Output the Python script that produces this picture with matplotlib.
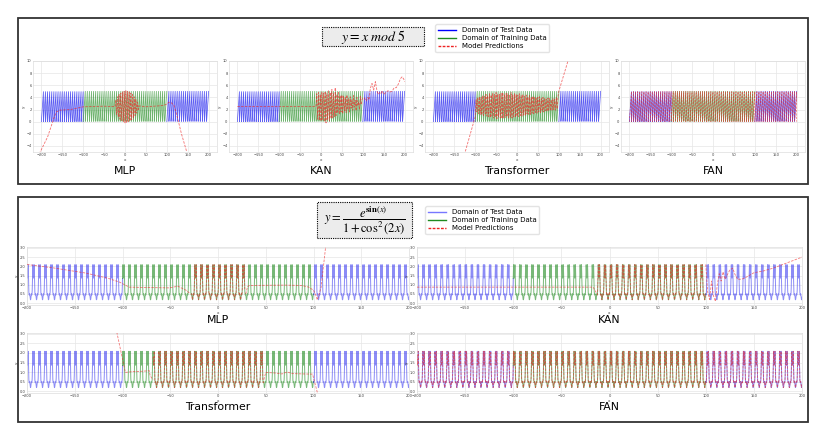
import numpy as np
import matplotlib
matplotlib.use("Agg")
import matplotlib.pyplot as plt
from matplotlib.patches import Rectangle
from matplotlib.lines import Line2D

plt.rcParams['font.family'] = ['DejaVu Sans']
plt.rcParams['mathtext.fontset'] = 'stix'

W, H = 827, 436

# ---------------- data ----------------
model_names = ["MLP", "KAN", "Transformer", "FAN"]
x_ticks = [-200, -150, -100, -50, 0, 50, 100, 150, 200]
mod_y_ticks = [-4, -2, 0, 2, 4, 6, 8, 10]
exp_y_ticks = [0.0, 0.5, 1.0, 1.5, 2.0, 2.5, 3.0]
train_domain = [-100, 100]
full_domain = [-200, 200]
legend_labels = ["Domain of Test Data", "Domain of Training Data", "Model Predictions"]
formula_mod = r"$y = x\ mod\ 5$"
formula_exp = r"$y = \dfrac{e^{\mathbf{sin}(x)}}{1 + \cos^2(2x)}$"

def target_mod(x):
    # function named in the chart title: y = x mod 5
    return np.mod(x, 5)

def target_exp(x):
    # function named in the chart title: y = e^sin(x) / (1 + cos^2(2x))
    return np.exp(np.sin(x)) / (1 + np.cos(2 * x) ** 2)

# --- predictions, task 1 (x mod 5) ---
mlp_mod_x = [-205, -185, -170, -164, -156, -130, -100, -75, -51, -30,
             -24, -22, -20, -18, -16, -14, -12, -10, -8, -6, -4, -2, 0, 2, 4, 6, 8, 10,
             12, 14, 16, 18, 20, 22, 24, 26, 28, 30, 32, 34,
             49, 80, 93, 100, 105, 111, 117, 125, 135, 149]
mlp_mod_y = [-5.3, -2.5, 0.6, 1.6, 1.9, 2.0, 2.45, 2.5, 2.55, 2.5,
             2.5, 3.6, 1.2, 4.1, 0.8, 4.5, 0.4, 4.7, 0.2, 4.9, 0.0, 5.0, -0.2, 5.1, -0.2, 5.0, 0.0, 4.9,
             0.1, 4.7, 0.3, 4.5, 0.6, 4.1, 1.0, 3.7, 1.4, 3.2, 2.0, 2.6,
             2.45, 2.6, 2.7, 2.9, 3.2, 3.1, 2.7, 0.8, -2.0, -5.3]

kan_mod_x = [-200, -13,
             -12, -10, -8, -6, -4, -2, 0, 2, 4, 6, 8, 10, 12, 14, 16, 18, 20, 22, 24, 26, 28,
             30, 32, 34, 36, 38, 40, 42, 44, 46, 48, 50,
             52, 54, 56, 58, 60, 62, 64, 66, 68, 70, 72, 74, 76, 78, 80, 82, 84, 86, 88, 90,
             92, 94, 96, 98, 100,
             104, 108, 112, 115, 118, 122, 126, 130, 134, 137, 140, 143, 146, 150, 155, 160,
             165, 170, 175, 180, 185, 190, 194, 198, 200]
kan_mod_y = [2.5, 2.5,
             2.5, 4.6, 0.4, 4.8, 0.2, 4.5, 0.1, 4.9, 0.3, 4.7, 0.0, 5.0, -0.2, 4.6, 0.3, 5.2, 0.1, 4.8, 0.5, 5.3, 0.6,
             4.7, 0.8, 5.6, 1.0, 4.5, 1.4, 5.0, 1.2, 4.3, 1.6, 4.4,
             1.3, 4.2, 1.8, 4.0, 1.5, 4.4, 2.0, 3.8, 1.6, 4.1, 2.2, 3.6, 1.9, 4.3, 2.4, 3.5, 1.8, 4.0, 2.6, 3.3,
             2.0, 4.2, 2.8, 3.6, 3.9,
             3.9, 3.4, 4.0, 3.6, 5.5, 6.3, 5.2, 6.6, 5.0, 4.5, 4.8, 4.6, 5.1, 4.5, 4.8, 5.1,
             4.9, 5.0, 5.6, 5.6, 6.2, 7.1, 7.4, 7.0, 6.6]

tr_mod_x = [-126, -100,
            -98, -96, -94, -92, -90, -88, -86, -84, -82, -80, -78, -76, -74, -72, -70, -68,
            -66, -64, -62, -60, -58, -56, -54, -52, -50, -48, -46, -44, -42, -40, -38, -36,
            -34, -32, -30, -28, -26, -24, -22, -20, -18, -16, -14, -12, -10, -8, -6, -4, -2,
            0, 2, 4, 6, 8, 10, 12, 14, 16, 18, 20, 22, 24, 26, 28, 30, 32, 34, 36, 38, 40,
            42, 44, 46, 48, 50, 52, 54, 56, 58, 60, 62, 64, 66, 68, 70, 72, 74, 76, 78, 80,
            82, 84, 86, 88, 90, 92, 94, 96, 98, 100, 124]
tr_mod_y = [-5.5, 0.8,
            3.6, 1.6, 3.9, 1.3, 4.1, 1.2, 4.0, 1.1, 4.3, 1.0, 4.2, 1.3, 4.5, 0.9, 4.3, 0.8,
            4.6, 0.7, 4.4, 0.9, 4.7, 0.6, 4.5, 0.7, 4.8, 0.5, 4.6, 0.8, 4.5, 0.6, 4.7, 0.5,
            4.8, 0.6, 4.5, 0.7, 4.7, 0.8, 4.6, 0.6, 4.5, 0.7, 4.8, 0.6, 4.4, 0.8, 4.6, 0.7, 4.5,
            0.9, 4.4, 0.8, 4.6, 1.0, 4.3, 0.9, 4.5, 1.1, 4.2, 1.0, 4.4, 1.3, 4.1, 1.2, 4.3, 1.2,
            4.0, 1.4, 4.2, 1.3, 4.1, 1.5, 3.9, 1.4, 4.0, 1.6, 4.1, 1.5, 3.8, 1.7, 4.0, 1.6, 3.9,
            1.8, 3.7, 1.7, 3.9, 1.9, 3.8, 1.8, 3.6, 1.9, 3.8, 2.0, 3.7, 1.9, 4.0, 2.1, 4.2, 5.0, 10.5]

# --- predictions, task 2 (exp(sin x)/(1+cos^2 2x)) ---
mlp_exp_left_x = [-200, -173, -138, -115, -103, -93, -75, -51, -42, -33, -29]
mlp_exp_left_y = [2.1, 1.92, 1.63, 1.35, 1.14, 0.87, 0.85, 0.83, 0.92, 0.69, 0.5]
mlp_exp_fit = [-28, 28]
mlp_exp_right_x = [29, 31, 33, 50, 70, 88, 95, 100, 102, 104, 108, 113]
mlp_exp_right_y = [0.5, 0.9, 0.96, 0.97, 0.98, 0.96, 0.87, 0.7, 0.5, 0.18, 0.87, 3.2]

kan_exp_left_x = [-200, -17, -13]
kan_exp_left_y = [0.87, 0.87, 0.5]
kan_exp_fit = [-13, 100]
kan_exp_right_x = [100, 102, 104, 106, 108, 110, 112, 114, 116, 118, 120, 122, 125, 128,
                   130, 133, 137, 140, 145, 150, 160, 170, 180, 190, 200]
kan_exp_right_y = [2.1, 0.6, 0.2, 1.2, 0.4, 0.1, 1.0, 1.6, 1.2, 1.7, 1.3, 1.5, 1.8, 1.9,
                   1.6, 1.3, 1.3, 1.35, 1.5, 1.65, 1.75, 1.9, 2.1, 2.3, 2.5]

tr_exp_left_x = [-106, -97, -90, -80, -72, -71, -68]
tr_exp_left_y = [3.1, 0.98, 1.02, 1.04, 1.07, 0.8, 0.6]
tr_exp_fit = [-68, 48]
tr_exp_right_x = [48, 50, 60, 67, 72, 74, 78, 90, 99, 106]
tr_exp_right_y = [0.6, 0.98, 0.95, 0.9, 1.0, 0.98, 0.92, 0.9, 0.89, -0.45]

# ---------------- style ----------------
C_TEST = "#1a1aee"
C_TRAIN = "#1f8a1f"
C_PRED = "#ee2222"
GRID = "#e6e6e6"

fig = plt.figure(figsize=(W / 100, H / 100), dpi=100)
fig.patch.set_facecolor("white")


def px_axes(l, r, t, b):
    return fig.add_axes([l / W, 1 - b / H, (r - l) / W, (b - t) / H])


def style_ax(ax, yticks, ylim, xlim):
    ax.set_xlim(*xlim)
    ax.set_ylim(*ylim)
    ax.set_xticks(x_ticks)
    ax.set_yticks(yticks)
    ax.tick_params(labelsize=2.6, length=0, pad=1, colors="#444444")
    ax.grid(True, color=GRID, lw=0.5)
    ax.set_axisbelow(True)
    for s in ax.spines.values():
        s.set_color("#dddddd")
        s.set_linewidth(0.5)
    ax.set_xlabel("x", fontsize=3, labelpad=0.5, color="#444444")
    ax.set_ylabel("y", fontsize=3, labelpad=0.5, color="#444444")


def draw_truth(ax, f, step, lw, a_test, a_train):
    segs = [(full_domain[0], train_domain[0], C_TEST, a_test),
            (train_domain[0], train_domain[1], C_TRAIN, a_train),
            (train_domain[1], full_domain[1], C_TEST, a_test)]
    for a, b, c, al in segs:
        xs = np.arange(a, b + step / 2, step)
        ax.plot(xs, f(xs), color=c, lw=lw, alpha=al, zorder=2)


# ---------------- top row: x mod 5 ----------------
top_lefts = [33, 229, 425, 621]
top_w = 184
mod_preds = [(mlp_mod_x, mlp_mod_y), (kan_mod_x, kan_mod_y), (tr_mod_x, tr_mod_y), None]
for i, name in enumerate(model_names):
    l = top_lefts[i]
    ax = px_axes(l, l + top_w, 61, 152)
    draw_truth(ax, target_mod, 0.05, 0.55, 0.7, 0.65)
    if mod_preds[i] is not None:
        px_, py_ = mod_preds[i]
        ax.plot(px_, py_, color=C_PRED, lw=0.6, ls="--", dashes=(3, 1.5), alpha=0.65, zorder=3)
    else:
        xs = np.arange(full_domain[0], full_domain[1] + 0.025, 0.05)
        ax.plot(xs, target_mod(xs), color=C_PRED, lw=0.55, ls="--", dashes=(3, 1.5), alpha=0.6, zorder=3)
    style_ax(ax, mod_y_ticks, (-5, 10), (-220, 220))
    fig.text((l + top_w / 2) / W, 1 - 171 / H, name, ha="center", va="center", fontsize=7.8)

# ---------------- bottom rows ----------------
bot_pos = [(27, 409, 247, 305), (417, 802, 247, 305), (27, 409, 333, 393), (417, 802, 333, 393)]
title_y = [320, 320, 407, 407]
exp_preds = [
    (mlp_exp_left_x, mlp_exp_left_y, mlp_exp_fit, mlp_exp_right_x, mlp_exp_right_y),
    (kan_exp_left_x, kan_exp_left_y, kan_exp_fit, kan_exp_right_x, kan_exp_right_y),
    (tr_exp_left_x, tr_exp_left_y, tr_exp_fit, tr_exp_right_x, tr_exp_right_y),
    None,
]
for i, name in enumerate(model_names):
    l, r, t, b = bot_pos[i]
    ax = px_axes(l, r, t, b)
    draw_truth(ax, target_exp, 0.02, 0.7, 0.5, 0.6)
    kw = dict(color=C_PRED, lw=0.6, ls="--", dashes=(3, 1.5), alpha=0.6, zorder=3)
    if exp_preds[i] is not None:
        lx, ly, fit, rx, ry = exp_preds[i]
        ax.plot(lx, ly, **kw)
        xs = np.arange(fit[0], fit[1] + 0.01, 0.02)
        ax.plot(xs, target_exp(xs), **kw)
        ax.plot(rx, ry, **kw)
    else:
        xs = np.arange(full_domain[0], full_domain[1] + 0.01, 0.02)
        ax.plot(xs, target_exp(xs), **kw)
    style_ax(ax, exp_y_ticks, (-0.1, 3.05), (-200, 200))
    fig.text(((l + r) / 2) / W, 1 - title_y[i] / H, name, ha="center", va="center", fontsize=7.8)

# ---------------- boxes ----------------
for (x0, y0, x1, y1) in [(18, 18, 808, 184), (18, 197, 808, 422)]:
    fig.add_artist(Rectangle((x0 / W, 1 - y1 / H), (x1 - x0) / W, (y1 - y0) / H,
                             transform=fig.transFigure, fill=False,
                             edgecolor="#333333", lw=1.3))

# ---------------- formula boxes ----------------
for (x0, y0, x1, y1) in [(322, 27, 424, 46), (317, 202, 412, 238)]:
    fig.add_artist(Rectangle((x0 / W, 1 - y1 / H), (x1 - x0) / W, (y1 - y0) / H,
                             transform=fig.transFigure, facecolor="#ececec",
                             edgecolor="black", linestyle=(0, (1, 1)), lw=0.8, zorder=5))
fig.text(373 / W, 1 - 36.5 / H, formula_mod, ha="center", va="center", fontsize=10, zorder=6)
fig.text(364.5 / W, 1 - 220 / H, formula_exp, ha="center", va="center", fontsize=9, zorder=6)

# ---------------- legends ----------------
def make_handles(test_color):
    return [Line2D([], [], color=test_color, lw=1.0),
            Line2D([], [], color=C_TRAIN, lw=1.0),
            Line2D([], [], color=C_PRED, lw=1.0, ls="--", dashes=(2, 1))]

fig.legend(make_handles("#0000ff"), legend_labels, loc="upper left",
           bbox_to_anchor=(432 / W, 1 - 21 / H), fontsize=5, frameon=True,
           handlelength=2.6, borderpad=0.4, labelspacing=0.3, handletextpad=0.8,
           edgecolor="#dddddd", fancybox=True)
fig.legend(make_handles("#7777ff"), legend_labels, loc="upper left",
           bbox_to_anchor=(422 / W, 1 - 203 / H), fontsize=5, frameon=True,
           handlelength=2.6, borderpad=0.4, labelspacing=0.3, handletextpad=0.8,
           edgecolor="#dddddd", fancybox=True)

fig.savefig("out.png", dpi=100, facecolor="white")
